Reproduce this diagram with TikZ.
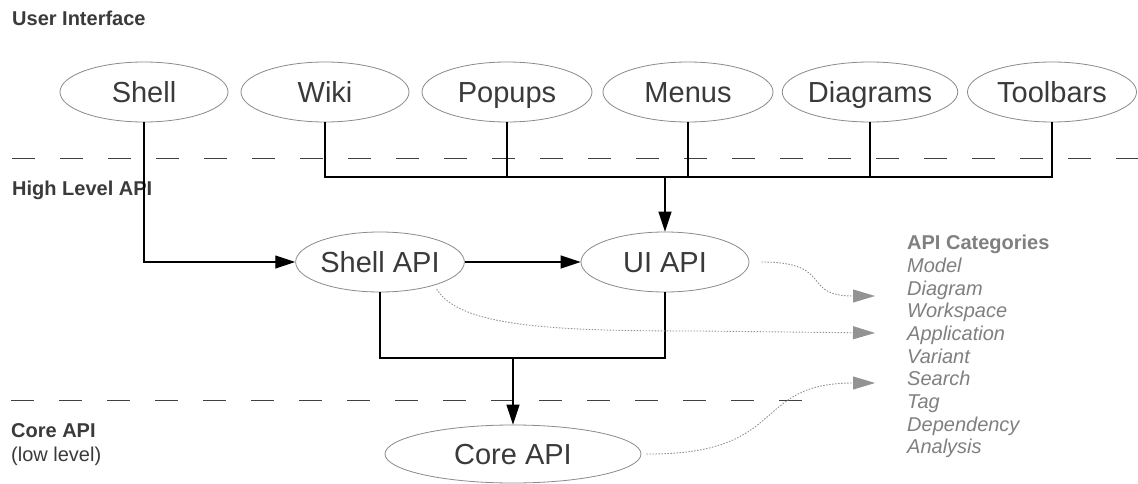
\documentclass[tikz,border=0pt]{standalone}
\usepackage{fontspec}
\setmainfont{Liberation Sans}
\usetikzlibrary{arrows.meta,shapes.geometric}
\definecolor{txt}{HTML}{3A3A3A}
\definecolor{cat}{HTML}{808080}
\definecolor{edge}{HTML}{8A8A8A}
\begin{document}
\begin{tikzpicture}[x=1pt,y=-1pt,
  box/.style={ellipse, draw=edge, line width=0.8pt, inner sep=0pt, minimum height=60pt, text=txt, text height=21pt, text depth=0pt, font=\fontsize{29}{34}\selectfont},
  lbl/.style={anchor=base west, inner sep=0pt, text=txt, font=\fontsize{20}{24}\selectfont\bfseries},
  conn/.style={line width=1.2pt, draw=black},
  arr/.style={conn, -{Triangle[length=20pt,width=13pt]}},
  sep/.style={draw=black!75, line width=0.9pt, dash pattern=on 23pt off 25pt},
  hint/.style={draw=cat!85, line width=0.9pt, dash pattern=on 1.5pt off 1.5pt, -{Triangle[length=22pt,width=13pt]}}]
\useasboundingbox (0,0) rectangle (1138,484);
\fill[white] (0,0) rectangle (1138,484);

% layer separators
\draw[sep] (12,158) -- (1138,158);
\draw[sep] (11,400) -- (809,400);

% layer labels
\node[lbl] (ui) at (12,26) {User Interface};
\node[lbl] (hl) at (12,195) {High Level API};
\node[lbl] (core) at (11,437) {Core API};
\node[lbl, font=\fontsize{20}{24}\selectfont] (low) at (11,461) {(low level)};

% user interface
\node[box, minimum width=168pt] (shell) at (144,92) {Shell};
\node[box, minimum width=168pt] (wiki) at (325,92) {Wiki};
\node[box, minimum width=170pt] (popups) at (507,92) {Popups};
\node[box, minimum width=170pt] (menus) at (688,92) {Menus};
\node[box, minimum width=170pt] (diagrams) at (870,92) {Diagrams};
\node[box, minimum width=169pt] (toolbars) at (1052,92) {Toolbars};

% APIs
\node[box, minimum width=157pt] (shellapi) at (380,262) {Shell API};
\node[box, minimum width=168pt] (uiapi) at (665,262) {UI API};
\node[box, minimum width=256pt, minimum height=58pt] (coreapi) at (513,454) {Core API};

% categories
\node[anchor=north west, inner sep=0pt, align=left, text=cat, font=\fontsize{20}{22.7}\selectfont] (cats) at (907,235)
 {\textbf{API Categories}\\\textit{Model}\\\textit{Diagram}\\\textit{Workspace}\\\textit{Application}\\\textit{Variant}\\\textit{Search}\\\textit{Tag}\\\textit{Dependency}\\\textit{Analysis}};

% connectors
\coordinate (bus) at (665,177);
\draw[conn] (wiki.south) |- (toolbars.south |- bus) -- (toolbars.south);
\foreach \n in {popups,menus,diagrams} \draw[conn] (\n.south) -- (\n.south |- bus);
\draw[arr] (bus) -- (uiapi.north);
\draw[arr] (shell.south) |- (shellapi.west);
\draw[arr] (shellapi.east) -- (uiapi.west);
\coordinate (join) at (513,358);
\draw[conn] (shellapi.south) |- (join) -| (uiapi.south);
\draw[arr] (join) -- (coreapi.north);

% hints to categories
\coordinate (c1) at (875,296);
\coordinate (c2) at (875,333);
\coordinate (c3) at (875,383);
\draw[hint] ([xshift=12pt]uiapi.east) .. controls (835,262) and (800,296) .. (c1);
\draw[hint] ([xshift=5pt,yshift=-3pt]shellapi.-25) .. controls (460,328) and (560,331) .. (700,331) -- (c2);
\draw[hint] ([xshift=5pt]coreapi.east) .. controls (790,455) and (750,383) .. (c3);
\end{tikzpicture}
\end{document}
